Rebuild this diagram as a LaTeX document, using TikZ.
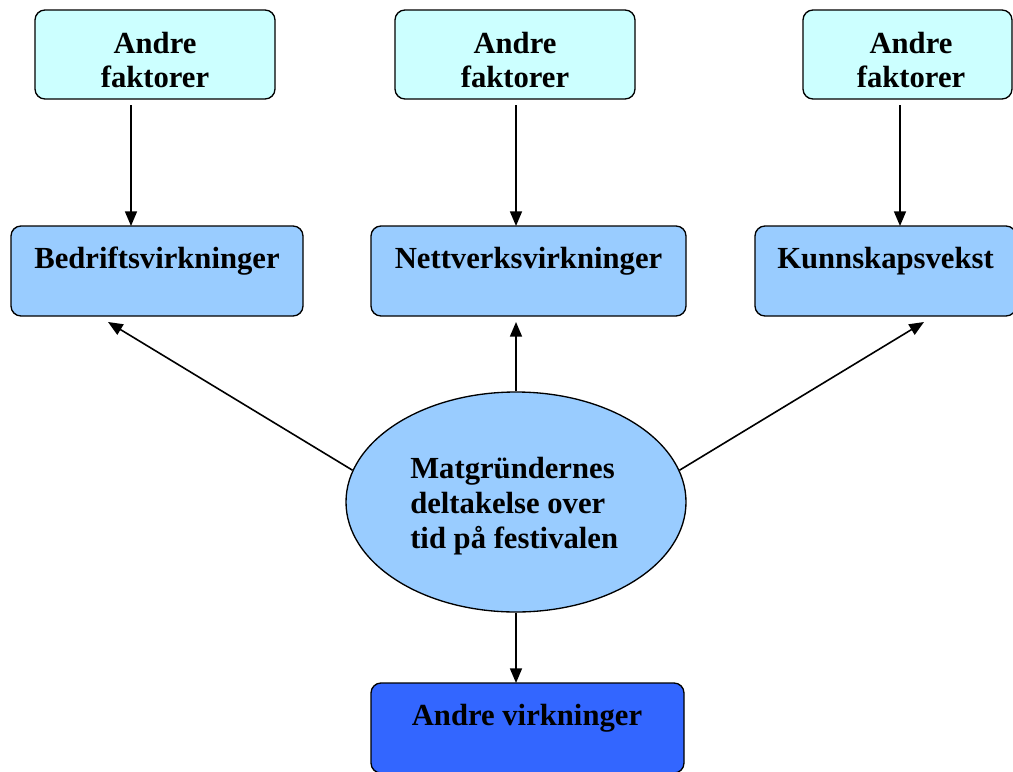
\documentclass[tikz,border=0pt]{standalone}
\usepackage{fontspec}
\setmainfont{Liberation Serif}
\usetikzlibrary{shapes.geometric,arrows.meta}
\definecolor{factorfill}{HTML}{CCFFFF}
\definecolor{effectfill}{HTML}{99CCFF}
\definecolor{otherfill}{HTML}{3366FF}
\begin{document}
\begin{tikzpicture}[x=0.75pt,y=-0.75pt,
  box/.style={draw=black,line width=1pt,rounded corners=7.5pt,inner sep=0pt},
  factor/.style={box,fill=factorfill,minimum height=66.75pt},
  effect/.style={box,fill=effectfill,minimum height=67.5pt},
  other/.style={box,fill=otherfill,minimum height=67.5pt},
  oval/.style={ellipse,draw=black,line width=1pt,fill=effectfill,inner sep=0pt,minimum width=255pt,minimum height=165pt},
  lbl/.style={font=\fontsize{23}{25.5}\selectfont\bfseries,inner sep=0pt,align=center},
  arr/.style={line width=1.2pt,-{Triangle[length=11pt,width=9pt]}}]
\useasboundingbox (0,0) rectangle (1013,771);
\clip (0,0) rectangle (1013,771);

% boxes
\node[factor,minimum width=180pt] (f1) at (155,54.5) {};
\node[factor,minimum width=180pt] (f2) at (515,54.5) {};
\node[factor,minimum width=156.75pt] (f3) at (907.5,54.5) {};
\node[effect,minimum width=219pt] (b1) at (157,271) {};
\node[effect,minimum width=236.25pt] (b2) at (528.5,271) {};
\node[effect,minimum width=195.75pt] (b3) at (885.5,271) {};
\node[oval] (e) at (516,502) {};
\node[other,minimum width=234.75pt] (o) at (527.5,728) {};

% labels
\node[lbl] (tf1) at (155,60) {Andre\\faktorer};
\node[lbl] (tf2) at (515,60) {Andre\\faktorer};
\node[lbl] (tf3) at (911,60) {Andre\\faktorer};
\node[lbl,anchor=base] (tb1) at (157,268) {Bedriftsvirkninger};
\node[lbl,anchor=base] (tb2) at (528.5,268) {Nettverksvirkninger};
\node[lbl,anchor=base] (tb3) at (885.5,268) {Kunnskapsvekst};
\node[lbl,anchor=west,align=left,font=\fontsize{23}{26.25}\selectfont\bfseries] (te) at (410,506) {Matgründernes\\deltakelse over\\tid på festivalen};
\node[lbl,anchor=base] (to) at (527,725) {Andre virkninger};

% connector end points
\coordinate (a1s) at (131,105);
\coordinate (a1e) at (131,226);
\coordinate (a2s) at (516,105);
\coordinate (a2e) at (516,226);
\coordinate (a3s) at (900,105);
\coordinate (a3e) at (900,226);
\coordinate (c1) at (108,322);
\coordinate (c2) at (516,322);
\coordinate (c3) at (924,322);
\coordinate (c4) at (516,683);

\draw[arr] (a1s) -- (a1e);
\draw[arr] (a2s) -- (a2e);
\draw[arr] (a3s) -- (a3e);
\draw[arr] (e.169) -- (c1);
\draw[arr] (e.north) -- (c2);
\draw[arr] (e.11) -- (c3);
\draw[arr] (e.south) -- (c4);
\end{tikzpicture}
\end{document}
